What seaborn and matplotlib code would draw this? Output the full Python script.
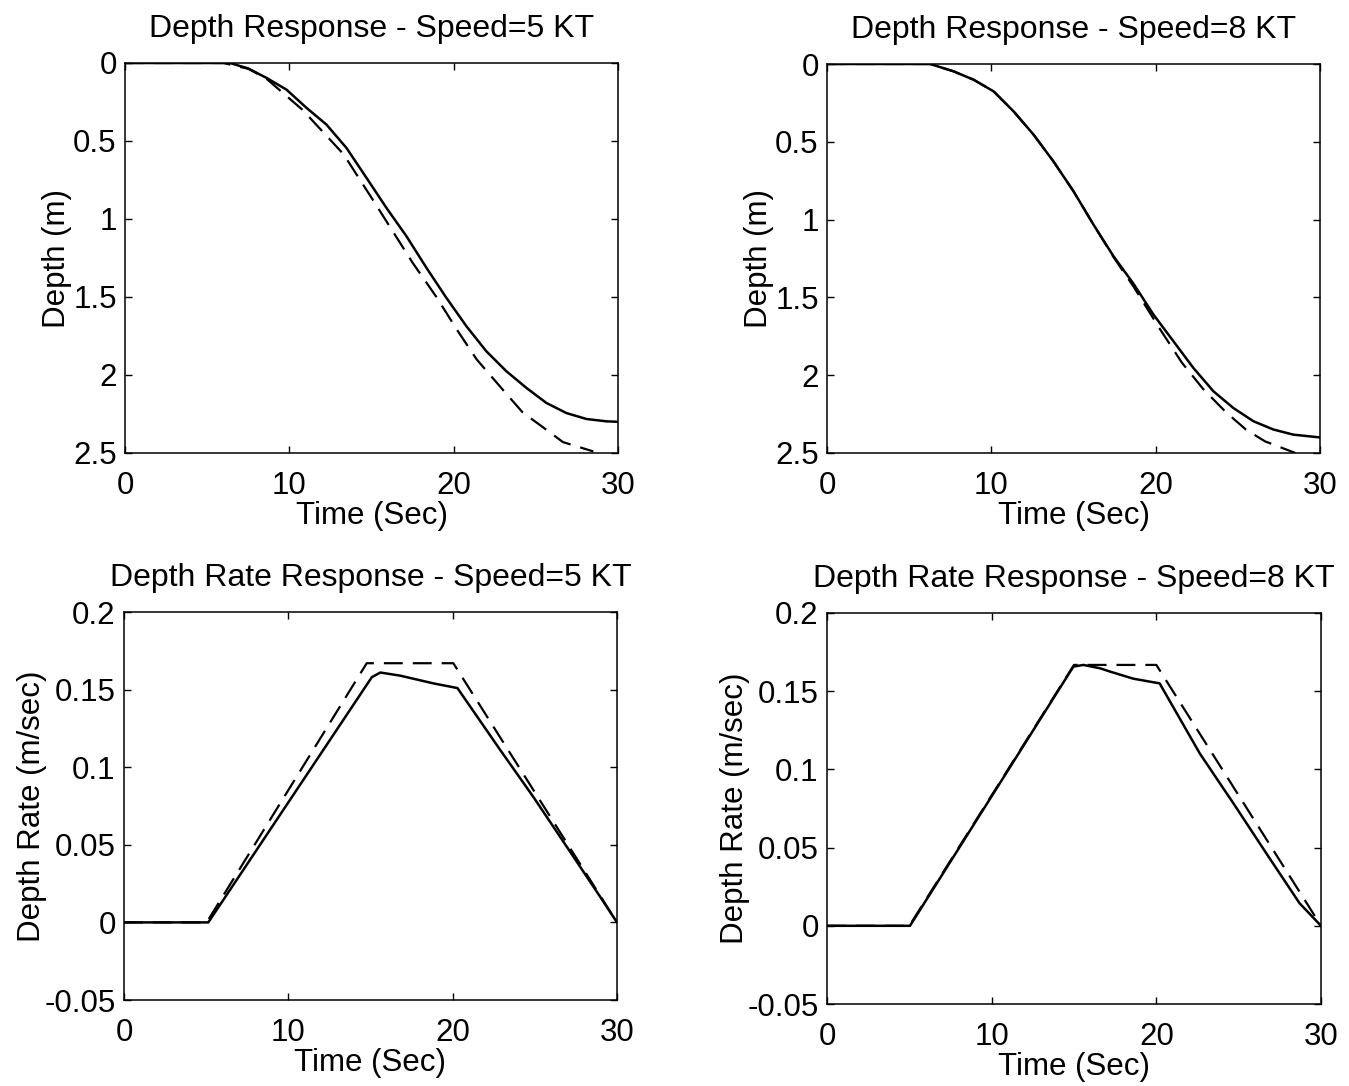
import matplotlib
matplotlib.use("Agg")
import matplotlib.pyplot as plt
import seaborn as sns
import pandas as pd

# ---------------- data ----------------
# Depth response, speed 5 kt
t_d5_act = [0, 6.39, 7.5, 8.62, 9.83, 11.05, 12.26, 13.48, 14.70, 15.91, 17.13, 18.35, 19.56,
            20.78, 21.99, 23.21, 24.43, 25.64, 26.86, 28.08, 29.29, 30.0]
d5_act = [0, 0, 0.035, 0.096, 0.171, 0.288, 0.395, 0.545, 0.737, 0.929, 1.111, 1.314, 1.506,
          1.688, 1.848, 1.976, 2.083, 2.179, 2.244, 2.282, 2.297, 2.30]
t_d5_cmd = [0, 6.0, 7.5, 8.6, 10.8, 13.3, 15.1, 17.5, 18.95, 20.2, 21.4, 23.2, 24.2, 25.5, 26.65, 28.5]
d5_cmd = [0, 0, 0.037, 0.100, 0.300, 0.585, 0.88, 1.28, 1.50, 1.71, 1.90, 2.12, 2.24, 2.34, 2.43, 2.49]

# Depth response, speed 8 kt
t_d8_act = [0, 6.28, 7.70, 8.92, 10.14, 11.35, 12.57, 13.78, 15.00, 16.22, 17.43, 18.65, 19.87,
            21.08, 22.30, 23.52, 24.73, 25.95, 27.16, 28.38, 30.0]
d8_act = [0, 0, 0.047, 0.101, 0.176, 0.304, 0.454, 0.626, 0.818, 1.033, 1.235, 1.412, 1.611,
          1.782, 1.954, 2.104, 2.211, 2.296, 2.349, 2.382, 2.40]
t_d8_cmd = [0, 6.28, 7.70, 8.92, 10.14, 11.35, 12.57, 13.78, 15.00, 16.22, 17.43, 18.65,
            20.3, 21.6, 22.9, 24.3, 25.5, 26.65, 28.5]
d8_cmd = [0, 0, 0.047, 0.101, 0.176, 0.304, 0.454, 0.626, 0.818, 1.033, 1.240, 1.43,
          1.71, 1.92, 2.09, 2.24, 2.35, 2.425, 2.50]

# Depth rate response, speed 5 kt
t_r5_act = [0, 5.13, 15.08, 15.6, 16.8, 18.83, 20.29, 22.9, 24.9, 26.94, 28.97, 30.0]
r5_act = [0, 0, 0.158, 0.161, 0.159, 0.154, 0.151, 0.111, 0.081, 0.0488, 0.0166, 0]
t_r5_cmd = [0, 5.03, 14.77, 20.04, 30.0]
r5_cmd = [0, 0, 0.167, 0.167, 0]

# Depth rate response, speed 8 kt
t_r8_act = [0, 5.04, 14.96, 15.57, 16.6, 17.2, 18.6, 20.2, 22.65, 24.7, 26.7, 28.7, 30.0]
r8_act = [0, 0, 0.1657, 0.1668, 0.1646, 0.1625, 0.158, 0.155, 0.110, 0.078, 0.046, 0.0144, 0]
t_r8_cmd = [0, 5.0, 15.0, 20.0, 30.0]
r8_cmd = [0, 0, 0.1668, 0.1668, 0]

titles = ["Depth Response - Speed=5 KT", "Depth Response - Speed=8 KT",
          "Depth Rate Response - Speed=5 KT", "Depth Rate Response - Speed=8 KT"]
x_ticks = [0, 10, 20, 30]
x_ticklabels = ["0", "10", "20", "30"]
depth_ticks = [0, 0.5, 1, 1.5, 2, 2.5]
depth_ticklabels = ["0", "0.5", "1", "1.5", "2", "2.5"]
rate_ticks = [-0.05, 0, 0.05, 0.1, 0.15, 0.2]
rate_ticklabels = ["-0.05", "0", "0.05", "0.1", "0.15", "0.2"]

# ---------------- style ----------------
sns.set_style("ticks")
plt.rcParams["font.family"] = ["Liberation Sans", "DejaVu Sans"]
plt.rcParams.update({
    "axes.linewidth": 1.1,
    "axes.edgecolor": "black",
    "axes.labelcolor": "black",
    "xtick.direction": "in",
    "ytick.direction": "in",
    "xtick.top": True,
    "ytick.right": True,
    "xtick.major.size": 5,
    "ytick.major.size": 5,
    "xtick.major.width": 1.0,
    "ytick.major.width": 1.0,
    "text.color": "black",
    "xtick.color": "black",
    "ytick.color": "black",
})

FS = 22.5
fig = plt.figure(figsize=(13.49, 10.86), dpi=100)

positions = [
    [125 / 1349, 1 - 453 / 1086, 493 / 1349, 390 / 1086],
    [827 / 1349, 1 - 453 / 1086, 493 / 1349, 389 / 1086],
    [124 / 1349, 1 - 1000 / 1086, 493 / 1349, 388 / 1086],
    [827 / 1349, 1 - 1004 / 1086, 494 / 1349, 391 / 1086],
]

panels = [
    (t_d5_act, d5_act, t_d5_cmd, d5_cmd),
    (t_d8_act, d8_act, t_d8_cmd, d8_cmd),
    (t_r5_act, r5_act, t_r5_cmd, r5_cmd),
    (t_r8_act, r8_act, t_r8_cmd, r8_cmd),
]

for i, (pos, (ta, ya, tc, yc)) in enumerate(zip(positions, panels)):
    ax = fig.add_axes(pos)
    df_a = pd.DataFrame({"t": ta, "y": ya})
    df_c = pd.DataFrame({"t": tc, "y": yc})
    sns.lineplot(data=df_a, x="t", y="y", ax=ax, color="black", linewidth=1.8,
                 estimator=None, sort=False)
    sns.lineplot(data=df_c, x="t", y="y", ax=ax, color="black", linewidth=1.6,
                 linestyle=(0, (8.5, 4.5)), estimator=None, sort=False)
    ax.set_xlim(0, 30)
    ax.set_xticks(x_ticks)
    ax.set_xticklabels(x_ticklabels)
    if i < 2:
        ax.set_ylim(2.5, 0)
        ax.set_yticks(depth_ticks)
        ax.set_yticklabels(depth_ticklabels)
        ax.set_ylabel("Depth (m)", fontsize=FS, labelpad=1)
    else:
        ax.set_ylim(-0.05, 0.2)
        ax.set_yticks(rate_ticks)
        ax.set_yticklabels(rate_ticklabels)
        ax.set_ylabel("Depth Rate (m/sec)", fontsize=FS, labelpad=-2)
    ax.set_xlabel("Time (Sec)", fontsize=FS, labelpad=0)
    ax.set_title(titles[i], fontsize=23, pad=19)
    ax.tick_params(axis="y", which="major", labelsize=FS, pad=6)
    ax.tick_params(axis="x", which="major", labelsize=FS, pad=13)
    for sp in ax.spines.values():
        sp.set_visible(True)

fig.savefig("out.png", dpi=100, facecolor="white")
